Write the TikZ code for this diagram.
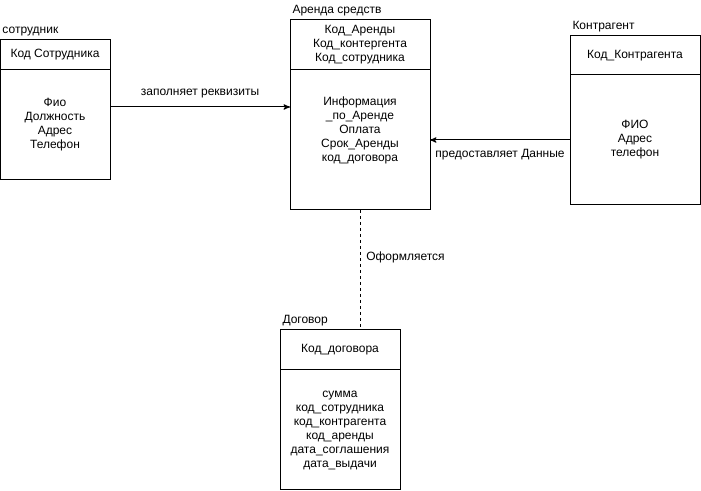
\documentclass[tikz,border=0pt]{standalone}
\usepackage{fontspec}
\setmainfont{Liberation Sans}
\usetikzlibrary{arrows, positioning, calc}

\begin{document}
\begin{tikzpicture}[x=0.75pt, y=-0.75pt, ->, >=stealth', line width=0.75pt, node distance=0pt, font=\fontsize{9}{10.5}\selectfont]
\tikzstyle{head}=[draw=black, align=center, outer sep=0pt, inner sep=2pt]
\tikzstyle{body}=[draw=black, align=center, outer sep=0pt, inner sep=2pt]
\tikzstyle{title}=[inner sep=0pt, text depth=0pt, anchor=south west]
\useasboundingbox (0,0) rectangle (701,491);
% сотрудник
\node[head, anchor=north west, minimum width=82.5pt, minimum height=22.5pt] (emp_head) at (0,40) {Код Сотрудника};
\node[body, minimum width=82.5pt, minimum height=82.5pt, below=of emp_head] (emp_body) {Фио\\Должность\\Адрес\\Телефон};
\node[title, above right=4.5pt and 1.5pt of emp_head.north west] (emp_title) {сотрудник};
% Аренда средств
\node[head, anchor=north west, minimum width=105pt, minimum height=37.5pt] (rent_head) at (290,20) {Код\_Аренды\\Код\_контергента\\Код\_сотрудника};
\node[body, minimum width=105pt, minimum height=105pt, below=of rent_head, text depth=16.5pt] (rent_body) {Информация\\\_по\_Аренде\\Оплата\\Срок\_Аренды\\код\_договора};
\node[title, above right=4.5pt and 1.5pt of rent_head.north west] (rent_title) {Аренда средств};
% Контрагент
\node[head, anchor=north west, minimum width=97.5pt, minimum height=29.25pt] (kon_head) at (570,36) {Код\_Контрагента};
\node[body, minimum width=97.5pt, minimum height=97.5pt, below=of kon_head] (kon_body) {ФИО\\Адрес\\телефон};
\node[title, above right=4.5pt and 1.5pt of kon_head.north west] (kon_title) {Контрагент};
% Договор
\node[head, anchor=north west, minimum width=90pt, minimum height=30pt] (dog_head) at (280,330) {Код\_договора};
\node[body, minimum width=90pt, minimum height=90pt, below=of dog_head] (dog_body) {сумма\\код\_сотрудника\\код\_контрагента\\код\_аренды\\дата\_соглашения\\дата\_выдачи};
\node[title, above right=4.5pt and 1.5pt of dog_head.north west] (dog_title) {Договор};
% связи
\draw ([yshift=-27.75pt]emp_body.north east) coordinate (fill_start) -- (fill_start -| rent_body.west)
    node[midway, above=3pt] {заполняет реквизиты};
\draw (kon_body.west) -- (rent_body.east)
    node[midway, below=3pt] {предоставляет Данные};
\draw[-, dash pattern=on 2.25pt off 2.25pt] (rent_body.south) -- ([yshift=1.5pt]rent_body.south |- dog_head.north)
    node[pos=0.4, right=1pt] {Оформляется};
\end{tikzpicture}
\end{document}
